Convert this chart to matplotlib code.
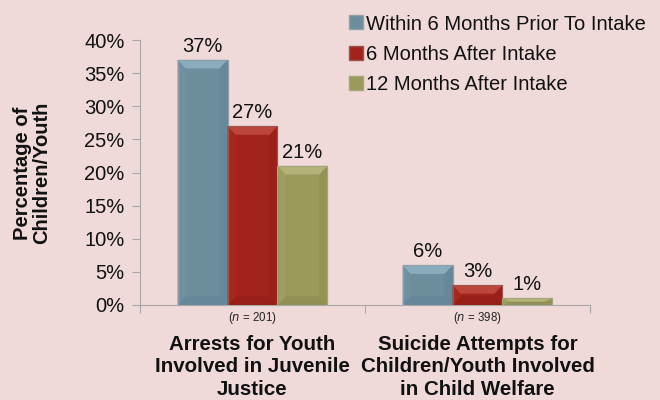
import matplotlib
matplotlib.use("Agg")
import matplotlib.pyplot as plt
import numpy as np
from matplotlib.lines import Line2D
from matplotlib.patches import Polygon

categories = ["Arrests for Youth\nInvolved in Juvenile\nJustice",
              "Suicide Attempts for\nChildren/Youth Involved\nin Child Welfare"]
n_labels = ["201", "398"]
series_names = ["Within 6 Months Prior To Intake", "6 Months After Intake", "12 Months After Intake"]
within6_prior = [37, 6]
after6 = [27, 3]
after12 = [21, 1]
yticks = [0, 5, 10, 15, 20, 25, 30, 35, 40]

bg = "#EFD9D9"
colors = ["#6C8D9C", "#A2231B", "#9A9A5C"]
tops = ["#8BACBC", "#BC463C", "#B2B279"]
rights = ["#67889A", "#9A2119", "#939357"]
lefts = ["#7090A0", "#A6271F", "#9E9E60"]
bottoms = ["#66879A", "#961F18", "#909055"]
edges = ["#8FA0A8", "#9A5550", "#A5A57A"]

plt.rcParams['font.family'] = ['Liberation Sans', 'DejaVu Sans']
fig = plt.figure(figsize=(6.6, 4.0), dpi=100, facecolor=bg)
ax = fig.add_axes([140/660, 1-305/400, 450/660, 265/400])
ax.set_facecolor(bg)
ax.set_xlim(-0.5, 1.5)
ax.set_ylim(0, 40)

x = np.arange(len(categories))
w = 0.222
series = [within6_prior, after6, after12]
bx = 0.036
for i, vals in enumerate(series):
    xs = x + (i - 1) * w
    bars = ax.bar(xs, vals, width=w, color=colors[i], edgecolor=edges[i], linewidth=0.8, zorder=3)
    for r in bars:
        x0, y0, ww, hh = r.get_x(), r.get_y(), r.get_width(), r.get_height()
        by = min(1.3, hh / 2)
        x1, y1 = x0 + ww, y0 + hh
        ax.add_patch(Polygon([(x0, y0), (x1, y0), (x1 - bx, y0 + by), (x0 + bx, y0 + by)],
                             closed=True, facecolor=bottoms[i], edgecolor="none", zorder=4))
        ax.add_patch(Polygon([(x0, y0), (x0, y1), (x0 + bx, y1 - by), (x0 + bx, y0 + by)],
                             closed=True, facecolor=lefts[i], edgecolor="none", zorder=4))
        ax.add_patch(Polygon([(x1, y0), (x1, y1), (x1 - bx, y1 - by), (x1 - bx, y0 + by)],
                             closed=True, facecolor=rights[i], edgecolor="none", zorder=4))
        ax.add_patch(Polygon([(x0, y1), (x1, y1), (x1 - bx, y1 - by), (x0 + bx, y1 - by)],
                             closed=True, facecolor=tops[i], edgecolor="none", zorder=4))
        ax.add_patch(plt.Rectangle((x0, y0), ww, hh, facecolor="none", edgecolor=edges[i],
                                   linewidth=0.8, zorder=5))
    for xi, v in zip(xs, vals):
        ax.text(xi, v + 0.6, f"{v}%", ha="center", va="bottom", fontsize=14.5, color="#111111")

ax.set_yticks(yticks)
ax.set_yticklabels([f"{t}%" for t in yticks], fontsize=14.5, color="#111111")
ax.set_xticks([-0.5, 0.5, 1.5])
ax.set_xticklabels([])
ax.tick_params(axis="x", direction="out", length=6, color="#A8A8A8")
ax.tick_params(axis="y", direction="out", length=6, color="#A8A8A8", pad=5)
for s in ["top", "right"]:
    ax.spines[s].set_visible(False)
for s in ["left", "bottom"]:
    ax.spines[s].set_color("#A8A8A8")

for xi, n, cat in zip(x, n_labels, categories):
    ax.annotate(f"($\\it{{n}}$ = {n})", xy=(xi, 0), xycoords=("data", "axes fraction"),
                xytext=(0, -9.5), textcoords="offset points", ha="center", va="center",
                fontsize=8.3, color="#222222")
    ax.annotate(cat, xy=(xi, 0), xycoords=("data", "axes fraction"),
                xytext=(0, -21.5), textcoords="offset points", ha="center", va="top",
                fontsize=14.8, fontweight="bold", color="#111111", linespacing=1.24)

fig.text(32/660, 1-173/400, "Percentage of\nChildren/Youth", rotation=90, ha="center", va="center",
         fontsize=14.5, fontweight="bold", color="#111111", linespacing=1.05)

handles = [Line2D([0], [0], marker="s", linestyle="none", markersize=10,
                  markerfacecolor=c, markeredgecolor=e) for c, e in zip(colors, edges)]
leg = fig.legend(handles, series_names, loc="upper right", bbox_to_anchor=(1.0, 1.0),
                 frameon=False, fontsize=14.5, handletextpad=0.05, labelspacing=0.55,
                 borderaxespad=0.0, borderpad=0.72, handlelength=0.9)
for t in leg.get_texts():
    t.set_color("#111111")

fig.savefig("out.png", dpi=100, facecolor=bg)
